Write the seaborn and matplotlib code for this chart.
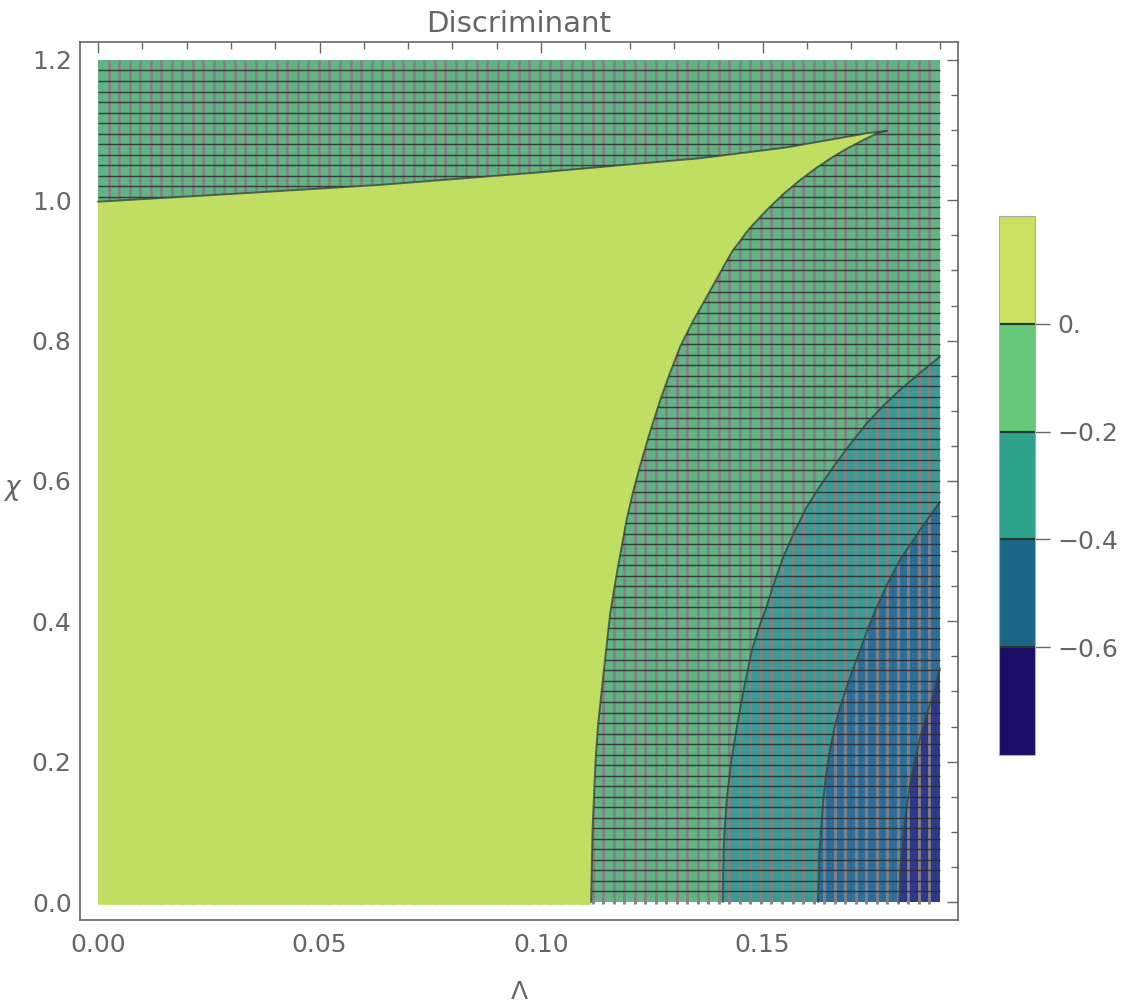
import numpy as np
import matplotlib
matplotlib.use('Agg')
import matplotlib as mpl
import matplotlib.pyplot as plt
import seaborn as sns

# контуры (Λ, χ)
zero_right_lam = [0.1113, 0.1116, 0.1123, 0.1129, 0.1141, 0.1156, 0.1171, 0.1193, 0.1207, 0.1223,
                  0.1245, 0.1269, 0.1291, 0.1314, 0.1343, 0.1374, 0.1400, 0.1430, 0.1468, 0.1509,
                  0.1547, 0.1585, 0.1622, 0.1659, 0.1690, 0.1720, 0.1758, 0.1780]
zero_right_chi = [0.0, 0.10, 0.2024, 0.2546, 0.3259, 0.4114, 0.4684, 0.5444, 0.5830, 0.6204,
                  0.6680, 0.7154, 0.7540, 0.7915, 0.8280, 0.8626, 0.8920, 0.926, 0.9580, 0.986,
                  1.0090, 1.029, 1.0465, 1.062, 1.0735, 1.0835, 1.0955, 1.099]

zero_top_lam = [0.0, 0.03, 0.0637, 0.10, 0.1359, 0.155, 0.1735, 0.178]
zero_top_chi = [0.998, 1.009, 1.022, 1.040, 1.060, 1.075, 1.0955, 1.099]

m02_lam = [0.1410, 0.1411, 0.1412, 0.1415, 0.1419, 0.1429, 0.1442, 0.1458, 0.1476, 0.1492, 0.1509,
           0.1527, 0.1547, 0.1572, 0.1600, 0.1630, 0.1660, 0.1697, 0.1735, 0.1772, 0.1810, 0.1855, 0.19]
m02_chi = [0.0, 0.04, 0.0741, 0.11, 0.1454, 0.20, 0.2498, 0.305, 0.3591, 0.392, 0.4208,
           0.457, 0.4921, 0.528, 0.5634, 0.593, 0.6204, 0.652, 0.6822, 0.707, 0.7297, 0.754, 0.777]

m04_lam = [0.1625, 0.1628, 0.1637, 0.1643, 0.1652, 0.1662, 0.1675, 0.1697, 0.1720, 0.1738,
           0.1758, 0.1783, 0.1810, 0.1855, 0.19]
m04_chi = [0.0, 0.07, 0.1454, 0.18, 0.2166, 0.248, 0.2783, 0.32, 0.359, 0.390,
           0.4208, 0.455, 0.4874, 0.530, 0.5703]

m06_lam = [0.1808, 0.1811, 0.1818, 0.1825, 0.1833, 0.1844, 0.1856, 0.1870, 0.1886, 0.19]
m06_chi = [0.0, 0.05, 0.0979, 0.134, 0.169, 0.203, 0.2356, 0.267, 0.297, 0.333]

cbar_levels = [-0.8, -0.6, -0.4, -0.2, 0.0, 0.2]
cbar_ticks = [0.0, -0.2, -0.4, -0.6]
cbar_ticklabels = ['0.', '\u22120.2', '\u22120.4', '\u22120.6']
cbar_colors = ['#1b0c68', '#1b6587', '#2da48a', '#66c878', '#cbe05e']

x_ticks = [0.0, 0.05, 0.10, 0.15]
x_ticklabels = ['0.00', '0.05', '0.10', '0.15']
y_ticks = [0.0, 0.2, 0.4, 0.6, 0.8, 1.0, 1.2]
y_ticklabels = ['0.0', '0.2', '0.4', '0.6', '0.8', '1.0', '1.2']

lam_max, chi_max = 0.19, 1.2
grey = '#666666'

sns.set_style('white')
plt.rcParams['font.family'] = ['DejaVu Sans']

fig = plt.figure(figsize=(11.26, 10.08), dpi=100)
ax = fig.add_axes([80 / 1126, 88 / 1008, 878 / 1126, 878 / 1008])
ax.set_xlim(-0.00406, 0.1941)
ax.set_ylim(-0.02565, 1.2256)

# заливка областей
ax.fill([0, lam_max, lam_max, 0], [0, 0, chi_max, chi_max], color='#62b485', lw=0, zorder=1)
ax.fill(m02_lam + [lam_max], m02_chi + [0], color='#3c9a94', lw=0, zorder=1.1)
ax.fill(m04_lam + [lam_max], m04_chi + [0], color='#2d6d99', lw=0, zorder=1.2)
ax.fill(m06_lam + [lam_max], m06_chi + [0], color='#2e398b', lw=0, zorder=1.3)

# сетка (mesh)
mesh_x = np.linspace(0, lam_max, 81)[1:-1]
mesh_y = np.linspace(0, chi_max, 81)[1:-1]
ax.vlines(mesh_x, -0.003, chi_max, colors='#858083', lw=2.0, zorder=2)
ax.hlines(mesh_y, 0, lam_max, colors='#2a2a2a', lw=1.0, alpha=0.85, zorder=2.5)

# положительная область (чуть ниже нуля, чтобы закрыть концы сетки)
yl_lam = [0.0] + zero_right_lam + zero_top_lam[::-1]
yl_chi = [-0.004] + [-0.004] + zero_right_chi[1:] + zero_top_chi[::-1]
ax.fill(yl_lam, yl_chi, color='#c0df62', lw=0, zorder=3)

# линии контуров
line_kw = dict(sort=False, estimator=None, ax=ax, color='#34483f', lw=1.4, alpha=0.8, zorder=4)
sns.lineplot(x=zero_right_lam, y=zero_right_chi, **line_kw)
sns.lineplot(x=zero_top_lam, y=zero_top_chi, **line_kw)
sns.lineplot(x=m02_lam, y=m02_chi, **line_kw)
sns.lineplot(x=m04_lam, y=m04_chi, **line_kw)
sns.lineplot(x=m06_lam, y=m06_chi, **line_kw)

# оси
for sp in ax.spines.values():
    sp.set_color(grey)
    sp.set_linewidth(1.2)
ax.set_xticks(x_ticks)
ax.set_xticklabels(x_ticklabels)
ax.set_yticks(y_ticks)
ax.set_yticklabels(y_ticklabels)
ax.set_xticks(np.arange(0, 0.1901, 0.01), minor=True)
ax.set_yticks(np.arange(0, 1.2001, 0.05), minor=True)
ax.tick_params(which='both', direction='in', top=True, right=True, colors=grey,
               labelcolor=grey, labelsize=18, width=1.0)
ax.tick_params(which='major', length=8)
ax.tick_params(which='minor', length=5)
ax.tick_params(axis='x', pad=9)
ax.tick_params(axis='y', pad=6)

ax.set_title('Discriminant', fontsize=21, color=grey, pad=7)
ax.text(0.5, -0.068, '\u039b', transform=ax.transAxes, ha='center', va='top',
        fontsize=18, color=grey)
ax.text(-0.078, 0.4915, '\u03c7', transform=ax.transAxes, ha='center', va='center',
        fontsize=19, color=grey, style='italic')

# шкала цветов
cax = fig.add_axes([999 / 1126, (1008 - 755) / 1008, 36 / 1126, 539 / 1008])
cmap = mpl.colors.ListedColormap(cbar_colors)
norm = mpl.colors.BoundaryNorm(cbar_levels, cmap.N)
cb = fig.colorbar(mpl.cm.ScalarMappable(norm=norm, cmap=cmap), cax=cax)
cb.set_ticks(cbar_ticks)
cb.set_ticklabels(cbar_ticklabels)
cax.minorticks_off()
cb.outline.set_edgecolor('#aaaaaa')
cb.outline.set_linewidth(0.8)
for lv in cbar_levels[1:-1]:
    cax.axhline(lv, color='#1f3a30', lw=1.6)
cax.tick_params(direction='out', length=11, width=1.0, colors=grey, labelcolor=grey,
                labelsize=18, pad=5)

fig.savefig('out.png', dpi=100, facecolor='white')
